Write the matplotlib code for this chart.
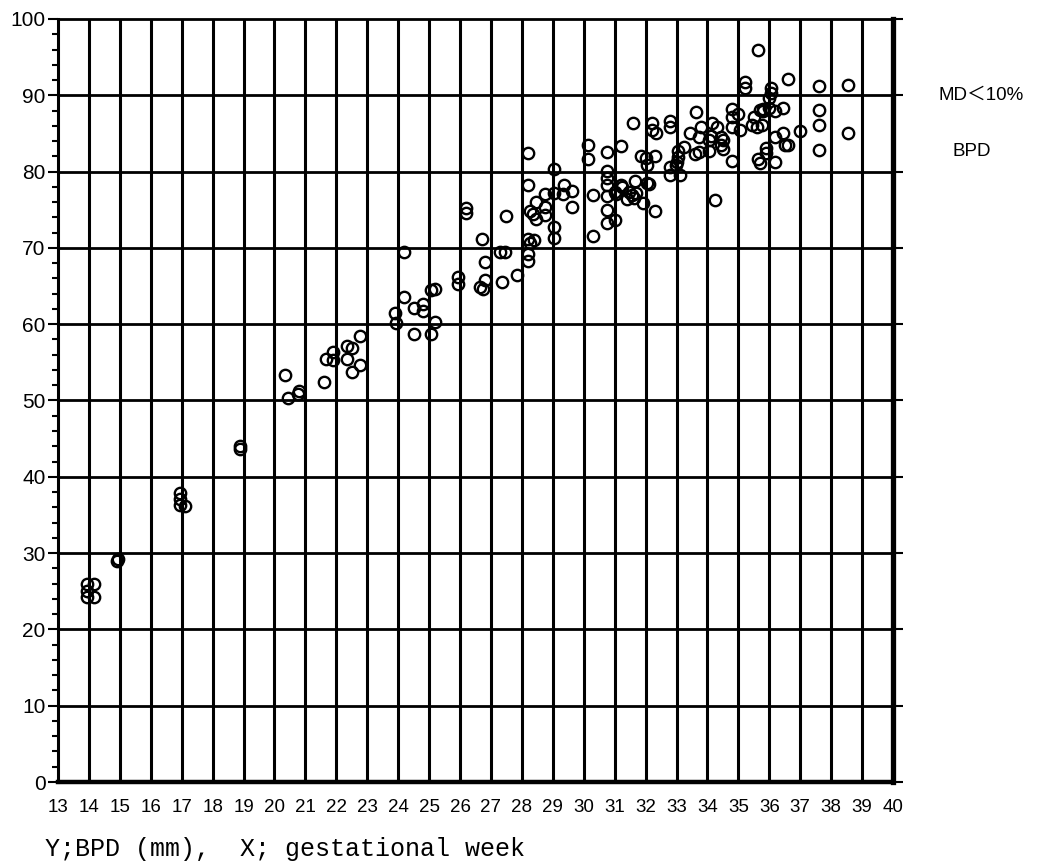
import matplotlib
matplotlib.use("Agg")
import matplotlib.pyplot as plt
from matplotlib.ticker import MultipleLocator

# gestational week / BPD (mm)
weeks = [
    13.95, 13.95, 13.95, 14.15, 14.15,
    14.95, 14.9,
    16.95, 16.95, 16.95, 17.12,
    18.88, 18.9,
    20.33, 20.45, 20.75, 20.8,
    21.6, 21.65, 21.9, 21.9, 22.35, 22.35, 22.5, 22.5, 22.75, 22.75,
    23.9, 23.92, 24.2, 24.2, 24.5, 24.5, 24.8, 24.8, 25.05, 25.2, 25.05, 25.2,
    25.95, 25.95, 26.2, 26.2, 26.7, 26.8, 26.65, 26.75, 26.8,
    27.35, 27.3, 27.45, 27.5, 27.85,
    28.2, 28.2, 28.25, 28.35, 28.45, 28.2, 28.25, 28.4, 28.2, 28.2, 28.45, 28.75, 28.75, 28.75,
    29.05, 29.05, 29.05, 29.35, 29.32, 29.62, 29.62, 29.05,
    30.15, 30.15, 30.3, 30.3,
    30.75, 30.75, 30.75, 30.75, 30.75, 30.75, 30.75, 31.0, 31.0,
    31.2, 31.2, 31.05, 31.25, 31.45, 31.55, 31.7, 31.4, 31.62, 31.9, 31.6, 31.65, 31.85,
    32.05, 32.0, 32.05, 32.2, 32.2, 32.35, 32.3, 32.3, 32.1,
    32.78, 32.78, 32.78, 32.78, 32.97, 33.1, 33.05, 33.05, 33.0,
    33.25, 33.45, 33.6, 33.62, 33.78, 33.73, 33.73,
    34.05, 34.05, 34.16, 34.43, 34.43, 34.25, 34.3, 34.1, 34.5, 34.5,
    34.78, 34.78, 34.78, 34.78, 35.0, 35.05, 35.2, 35.2,
    35.5, 35.6, 35.62, 35.62, 35.8, 35.45, 35.75, 35.7, 35.8, 35.9, 35.7,
    36.05, 36.05, 36.0, 36.0, 36.2, 36.45, 35.89, 36.2, 36.45, 36.5, 36.6, 36.2, 36.6,
    36.98,
    37.6, 37.6, 37.6, 37.6,
    38.55, 38.55,
]
bpd = [
    26.0, 25.0, 24.3, 26.0, 24.3,
    29.2, 29.0,
    37.9, 37.1, 36.3, 36.2,
    44.0, 43.7,
    53.3, 50.3, 50.9, 51.2,
    52.4, 55.5, 56.3, 55.3, 55.4, 57.2, 56.9, 53.8, 54.7, 58.5,
    61.5, 60.2, 69.4, 63.5, 62.1, 58.7, 62.6, 61.7, 64.5, 64.6, 58.7, 60.3,
    66.2, 65.3, 75.2, 74.6, 71.2, 68.2, 64.9, 64.6, 65.8,
    65.5, 69.4, 69.4, 74.2, 66.4,
    82.4, 78.3, 74.9, 74.4, 73.8, 71.2, 70.6, 71.0, 69.2, 68.3, 76.0, 77.0, 75.3, 74.3,
    80.3, 72.7, 71.3, 78.3, 77.0, 77.4, 75.4, 77.2,
    83.5, 81.6, 76.9, 71.5,
    82.6, 80.1, 79.2, 78.3, 76.8, 75.0, 73.3, 77.3, 73.6,
    83.4, 78.2, 77.1, 78.0, 77.3, 76.9, 77.2, 76.4, 76.5, 75.9, 86.4, 78.8, 82.0,
    78.5, 81.8, 80.8, 86.4, 85.5, 85.1, 74.8, 82.0, 78.4,
    86.6, 85.8, 80.6, 79.5, 80.8, 79.5, 82.7, 81.9, 81.2,
    83.2, 85.1, 82.3, 87.8, 85.8, 84.5, 82.6,
    84.2, 82.7, 86.4, 84.5, 83.5, 76.3, 85.9, 84.7, 84.1, 83.0,
    88.2, 87.2, 85.9, 81.4, 87.6, 85.4, 91.8, 90.9,
    87.2, 85.9, 81.6, 96.0, 87.9, 86.1, 86.1, 88.1, 88.2, 82.4, 81.1,
    90.9, 90.3, 89.7, 88.3, 87.9, 88.3, 83.1, 84.6, 85.0, 83.5, 83.5, 81.2, 92.1,
    85.3,
    91.2, 88.1, 86.1, 82.8,
    91.3, 85.1,
]

week_ticks = list(range(13, 41))
bpd_ticks = list(range(0, 101, 10))

fig = plt.figure(figsize=(10.42, 8.61), dpi=100)
ax = fig.add_axes([58 / 1042, 1 - 782 / 861, (893 - 58) / 1042, (782 - 19) / 861])

ax.set_xlim(13, 40)
ax.set_ylim(0, 100)

# grid
for w in week_ticks[1:-1]:
    ax.axvline(w, color="black", lw=2.2, zorder=1)
for b in bpd_ticks[1:-1]:
    ax.axhline(b, color="black", lw=2.0, zorder=1)

ax.plot(weeks, bpd, "o", ms=8.2, mfc="none", mec="black", mew=1.7, zorder=3)

for side, lw in [("left", 2.2), ("bottom", 3.2), ("right", 3.8), ("top", 2.0)]:
    ax.spines[side].set_linewidth(lw)

ax.set_xticks(week_ticks)
ax.set_xticklabels([str(w) for w in week_ticks], fontsize=13.5, family="Liberation Sans")
ax.set_yticks(bpd_ticks)
ax.set_yticklabels([str(b) for b in bpd_ticks], fontsize=15, family="Liberation Sans")
ax.yaxis.set_minor_locator(MultipleLocator(2))

ax.tick_params(axis="x", length=0, pad=12)
ax.tick_params(axis="y", which="major", length=7, width=1.5, pad=2, right=True)
ax.tick_params(axis="y", which="minor", length=4.3, width=1.5)

fig.text(938 / 1042, 1 - 95 / 861, "MD＜10%", fontsize=13.5,
         family=["Liberation Sans", "Noto Sans CJK JP"], va="center", ha="left")
fig.text(952 / 1042, 1 - 152 / 861, "BPD", fontsize=13.5,
         family="Liberation Sans", va="center", ha="left")

fig.text(45 / 1042, 1 - 849 / 861, "Y;BPD (mm),  X; gestational week", fontsize=18,
         family="Liberation Mono", va="center", ha="left")

fig.savefig("out.png", dpi=100)
